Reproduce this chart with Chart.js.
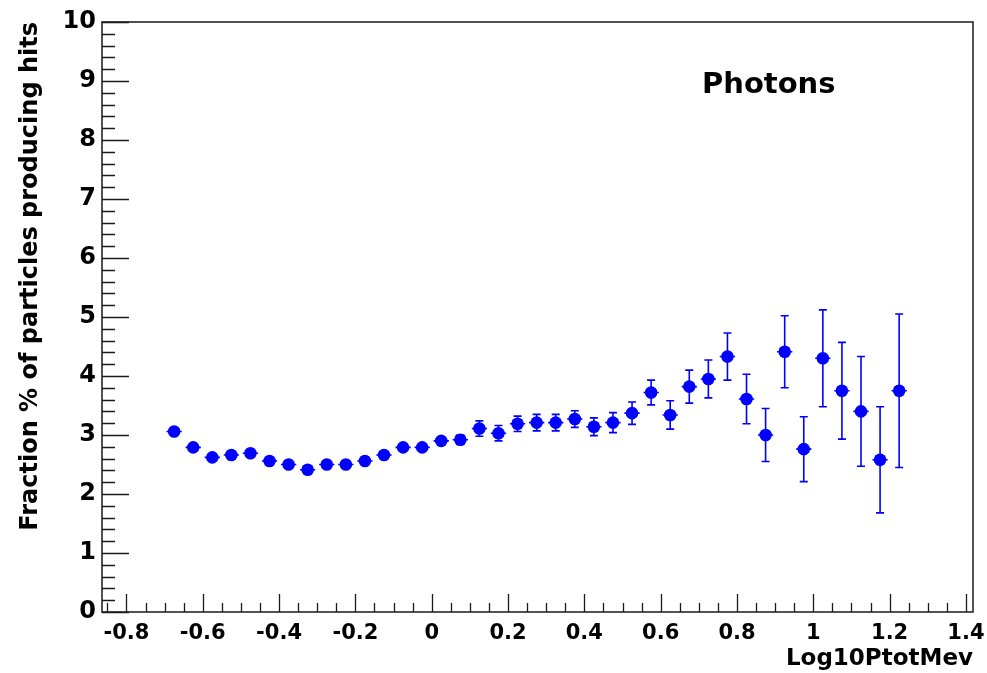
<!DOCTYPE html>
<html>
<head>
<meta charset="utf-8">
<script src="https://cdn.jsdelivr.net/npm/chart.js@4.4.1/dist/chart.umd.min.js"></script>
<style>
  html, body { margin: 0; padding: 0; background: #fff; }
</style>
</head>
<body>
<canvas id="hitChart" width="987" height="673"></canvas>
<script>
// bin centres of Log10PtotMev (bin width 0.05)
const binCenters = [
  -0.675, -0.625, -0.575, -0.525, -0.475, -0.425, -0.375, -0.325, -0.275, -0.225,
  -0.175, -0.125, -0.075, -0.025, 0.025, 0.075, 0.125, 0.175, 0.225, 0.275,
  0.325, 0.375, 0.425, 0.475, 0.525, 0.575, 0.625, 0.675, 0.725, 0.775,
  0.825, 0.875, 0.925, 0.975, 1.025, 1.075, 1.125, 1.175, 1.225
];
const hitFraction = [
  3.06, 2.79, 2.62, 2.66, 2.69, 2.56, 2.50, 2.41, 2.50, 2.50,
  2.56, 2.66, 2.79, 2.79, 2.90, 2.92, 3.11, 3.03, 3.19, 3.21,
  3.21, 3.27, 3.14, 3.21, 3.37, 3.72, 3.34, 3.82, 3.95, 4.33,
  3.61, 3.00, 4.41, 2.76, 4.30, 3.75, 3.40, 2.58, 3.75
];
const hitError = [
  0.04, 0.04, 0.04, 0.04, 0.05, 0.05, 0.05, 0.05, 0.05, 0.05,
  0.06, 0.06, 0.06, 0.06, 0.07, 0.08, 0.13, 0.13, 0.13, 0.14,
  0.14, 0.14, 0.15, 0.17, 0.19, 0.21, 0.24, 0.28, 0.32, 0.40,
  0.42, 0.45, 0.61, 0.55, 0.82, 0.82, 0.93, 0.90, 1.30
];
const xErrHalf = 0.02;
const xRange = [-0.864, 1.4185];
const yRange = [0, 10];
const xTickStep = 0.2, xMinorStep = 0.05;
const yTickStep = 1, yMinorStep = 0.2;
const plotLabel = "Photons";

const FONT = "DejaVu Sans";
const BLUE = "#0000ff";
const AXIS = "#1a1a1a";

// ROOT-style frame, inward ticks, error bars and label
const rootStyle = {
  id: "rootStyle",
  beforeDatasetsDraw(chart) {
    const ctx = chart.ctx;
    const x = chart.scales.x, y = chart.scales.y;
    ctx.save();
    ctx.strokeStyle = BLUE;
    ctx.lineWidth = 1.6;
    binCenters.forEach((c, i) => {
      const px = x.getPixelForValue(c);
      const py = y.getPixelForValue(hitFraction[i]);
      const top = y.getPixelForValue(hitFraction[i] + hitError[i]);
      const bot = y.getPixelForValue(hitFraction[i] - hitError[i]);
      ctx.beginPath();
      ctx.moveTo(px, top); ctx.lineTo(px, bot);
      ctx.moveTo(px - 4, top); ctx.lineTo(px + 4, top);
      ctx.moveTo(px - 4, bot); ctx.lineTo(px + 4, bot);
      ctx.moveTo(x.getPixelForValue(c - xErrHalf), py);
      ctx.lineTo(x.getPixelForValue(c + xErrHalf), py);
      ctx.stroke();
    });
    ctx.restore();
  },
  afterDraw(chart) {
    const ctx = chart.ctx;
    const a = chart.chartArea;
    const x = chart.scales.x, y = chart.scales.y;
    ctx.save();
    ctx.strokeStyle = AXIS;
    ctx.lineWidth = 1.5;
    ctx.strokeRect(a.left, a.top, a.right - a.left, a.bottom - a.top);

    ctx.lineWidth = 1.3;
    ctx.beginPath();
    for (let k = Math.ceil(xRange[0] / xMinorStep); k * xMinorStep <= xRange[1]; k++) {
      const v = k * xMinorStep;
      const px = Math.round(x.getPixelForValue(v)) + 0.5;
      const len = (k % Math.round(xTickStep / xMinorStep) === 0) ? 18 : 9;
      ctx.moveTo(px, a.bottom);
      ctx.lineTo(px, a.bottom - len);
    }
    for (let k = Math.ceil(yRange[0] / yMinorStep); k * yMinorStep <= yRange[1] + 1e-9; k++) {
      const v = k * yMinorStep;
      const py = Math.round(y.getPixelForValue(v)) + 0.5;
      const len = (k % Math.round(yTickStep / yMinorStep) === 0) ? 27 : 13;
      ctx.moveTo(a.left, py);
      ctx.lineTo(a.left + len, py);
    }
    ctx.stroke();

    ctx.fillStyle = "#000";
    ctx.font = "bold 29px '" + FONT + "'";
    ctx.textBaseline = "alphabetic";
    ctx.textAlign = "left";
    ctx.fillText(plotLabel, 702, 93);
    ctx.restore();
  }
};

const ctx = document.getElementById("hitChart").getContext("2d");

new Chart(ctx, {
  type: "scatter",
  data: {
    datasets: [{
      data: binCenters.map((c, i) => ({ x: c, y: hitFraction[i] })),
      backgroundColor: BLUE,
      borderColor: BLUE,
      borderWidth: 0,
      pointRadius: 6.3,
      pointHoverRadius: 6.3
    }]
  },
  options: {
    responsive: false,
    animation: false,
    layout: { padding: { top: 22, right: 14, left: 0, bottom: 0 } },
    plugins: {
      legend: { display: false },
      tooltip: { enabled: false }
    },
    scales: {
      x: {
        type: "linear",
        min: xRange[0],
        max: xRange[1],
        grid: { display: false, drawTicks: false },
        border: { display: false },
        ticks: {
          stepSize: xTickStep,
          includeBounds: false,
          autoSkip: false,
          maxRotation: 0,
          padding: 9,
          color: "#000",
          font: { family: FONT, size: 21, weight: "bold" },
          callback: v => String(Math.round(v * 10) / 10)
        },
        title: {
          display: true,
          text: "Log10PtotMev",
          align: "end",
          color: "#000",
          font: { family: FONT, size: 23, weight: "bold", lineHeight: 1.2 },
          padding: { top: 0, bottom: 0 }
        },
        afterFit(scale) {
          scale.height = 61;
          scale.paddingLeft = 0;
          scale.paddingRight = 0;
        }
      },
      y: {
        min: yRange[0],
        max: yRange[1],
        grid: { display: false, drawTicks: false },
        border: { display: false },
        ticks: {
          stepSize: yTickStep,
          padding: 6,
          color: "#000",
          font: { family: FONT, size: 24, weight: "bold" }
        },
        title: {
          display: true,
          text: "Fraction % of particles producing hits",
          align: "end",
          color: "#000",
          font: { family: FONT, size: 24, weight: "bold", lineHeight: 1.2 },
          padding: { top: 16, bottom: 0 }
        },
        afterFit(scale) {
          scale.width = 102;
          scale.paddingTop = 0;
          scale.paddingBottom = 0;
        }
      }
    }
  },
  plugins: [rootStyle]
});
</script>
</body>
</html>
